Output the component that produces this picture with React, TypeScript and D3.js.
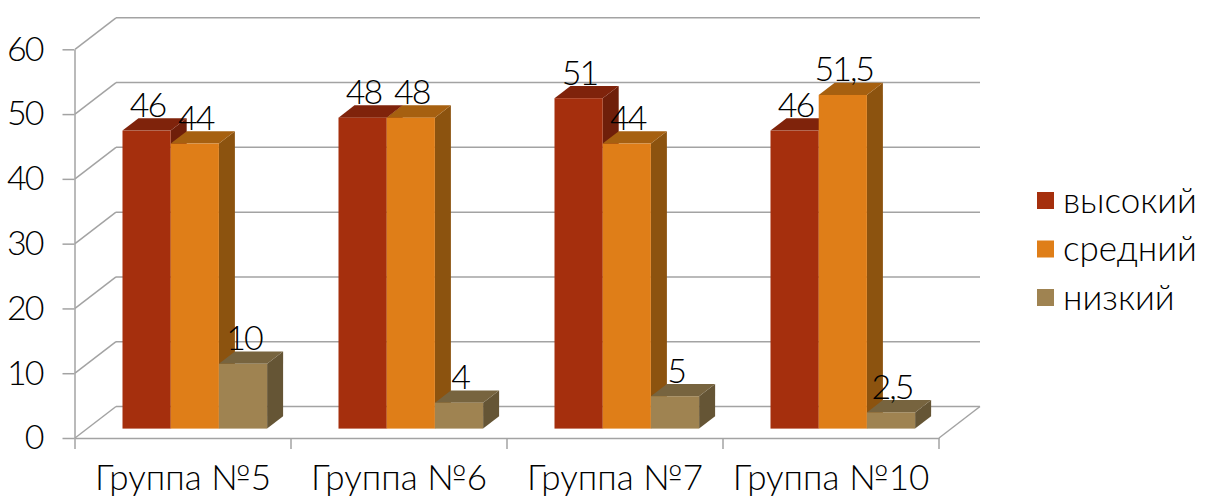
import React, { useEffect, useRef } from "react";
import * as d3 from "d3";

const groups = ["Группа №5", "Группа №6", "Группа №7", "Группа №10"];
const seriesNames = ["высокий", "средний", "низкий"];
const high = [46, 48, 51, 46];
const medium = [44, 48, 44, 51.5];
const low = [10, 4, 5, 2.5];
const yTicks = [0, 10, 20, 30, 40, 50, 60];

const frontColors = ["#a52f0d", "#df7e18", "#9f8351"];
const topColors = ["#7f230b", "#a66010", "#77643f"];
const sideColors = ["#6f1f0a", "#8c530f", "#655535"];

const font = "Lato, 'Noto Sans', sans-serif";
const width = 1208;
const height = 496;

const App = () => {
  const svgRef = useRef<SVGSVGElement>(null);

  useEffect(() => {
    const svg = d3.select(svgRef.current);
    svg.selectAll("*").remove();

    const x = d3.scaleBand<string>().domain(groups).range([75, 939]);
    const y = d3.scaleLinear().domain([0, 60]).range([438, 49.3]);

    // wall depth and bar depth
    const wallDx = 41;
    const wallDy = -31.5;
    const barInsetX = 12.2;
    const barInsetY = -9.4;
    const barDx = 16;
    const barDy = -12.3;

    const gridColor = "#a3a3a3";

    // gridlines on the back wall and the diagonals on the side wall
    const grid = svg.append("g").attr("stroke", gridColor).attr("stroke-width", 1.5).attr("fill", "none");
    yTicks.forEach((t) => {
      grid
        .append("line")
        .attr("x1", 75 + wallDx)
        .attr("x2", 939 + wallDx)
        .attr("y1", y(t) + wallDy)
        .attr("y2", y(t) + wallDy);
      grid
        .append("line")
        .attr("x1", 75)
        .attr("x2", 75 + wallDx)
        .attr("y1", y(t))
        .attr("y2", y(t) + wallDy);
    });
    grid
      .append("line")
      .attr("x1", 939)
      .attr("x2", 939 + wallDx)
      .attr("y1", y(0))
      .attr("y2", y(0) + wallDy);

    // axes
    const yAxis = svg
      .append("g")
      .attr("transform", "translate(74.5,0)")
      .call(d3.axisLeft(y).tickValues(yTicks).tickSize(12).tickPadding(20).tickSizeOuter(0));
    yAxis.selectAll("path,line").attr("stroke", gridColor).attr("stroke-width", 1.5);
    yAxis
      .selectAll("text")
      .attr("fill", "#000")
      .style("font-family", font)
      .style("font-size", "34px")
      .style("letter-spacing", "-2px")
      .style("font-weight", 300);

    const xAxis = svg
      .append("g")
      .attr("transform", `translate(0,${y(0)})`)
      .call(d3.axisBottom(x).tickSize(0).tickPadding(27));
    xAxis.select("path").attr("stroke", gridColor).attr("stroke-width", 1.5);
    xAxis
      .selectAll("text")
      .attr("fill", "#000")
      .style("font-family", font)
      .style("font-size", "35px")
      .style("font-weight", 300);

    // category ticks sit on the band edges
    const edges = [...groups.map((g) => x(g) as number), 939];
    svg
      .append("g")
      .selectAll("line")
      .data(edges)
      .join("line")
      .attr("x1", (d) => d)
      .attr("x2", (d) => d)
      .attr("y1", y(0))
      .attr("y2", y(0) + 11)
      .attr("stroke", gridColor)
      .attr("stroke-width", 1.5);

    // bars, back to front and left to right
    const inner = d3
      .scaleBand<number>()
      .domain([0, 1, 2])
      .range([35.3, 35.3 + 144.6]);
    const series = [high, medium, low];

    const bars = svg.append("g");
    groups.forEach((g, gi) => {
      series.forEach((values, si) => {
        const x0 = (x(g) as number) + barInsetX + (inner(si) as number);
        const x1 = x0 + inner.bandwidth();
        const yTop = y(values[gi]) + barInsetY;
        const yBase = y(0) + barInsetY;
        bars
          .append("path")
          .attr("d", `M${x1},${yTop}L${x1 + barDx},${yTop + barDy}L${x1 + barDx},${yBase + barDy}L${x1},${yBase}Z`)
          .attr("fill", sideColors[si]);
        bars
          .append("path")
          .attr("d", `M${x0},${yTop}L${x0 + barDx},${yTop + barDy}L${x1 + barDx},${yTop + barDy}L${x1},${yTop}Z`)
          .attr("fill", topColors[si]);
        bars
          .append("rect")
          .attr("x", x0)
          .attr("y", yTop)
          .attr("width", inner.bandwidth())
          .attr("height", yBase - yTop)
          .attr("fill", frontColors[si]);
      });
    });

    // value labels go over all the bars
    const labels = svg.append("g");
    groups.forEach((g, gi) => {
      series.forEach((values, si) => {
        const x0 = (x(g) as number) + barInsetX + (inner(si) as number);
        labels
          .append("text")
          .attr("x", x0 + inner.bandwidth() / 2 + 1)
          .attr("y", y(values[gi]) + barInsetY - 13.5)
          .attr("text-anchor", "middle")
          .attr("fill", "#000")
          .style("font-family", font)
          .style("font-size", "34px")
          .style("letter-spacing", "-2px")
          .style("font-weight", 300)
          .text(String(values[gi]).replace(".", ","));
      });
    });

    // legend
    const legendY = d3
      .scalePoint<string>()
      .domain(seriesNames)
      .range([200.5, 297.5]);
    const legend = svg.append("g");
    seriesNames.forEach((name, i) => {
      const cy = legendY(name) as number;
      legend
        .append("rect")
        .attr("x", 1037)
        .attr("y", cy - 8.5)
        .attr("width", 17)
        .attr("height", 17)
        .attr("fill", frontColors[i]);
      legend
        .append("text")
        .attr("x", 1063)
        .attr("y", cy + 12)
        .attr("fill", "#000")
        .style("font-family", font)
        .style("font-size", "35px")
        .style("font-weight", 300)
        .text(name);
    });
  }, []);

  return (
    <svg
      ref={svgRef}
      width={width}
      height={height}
      style={{ position: "absolute", left: 0, top: 0, background: "#fff" }}
    />
  );
};

export default App;
